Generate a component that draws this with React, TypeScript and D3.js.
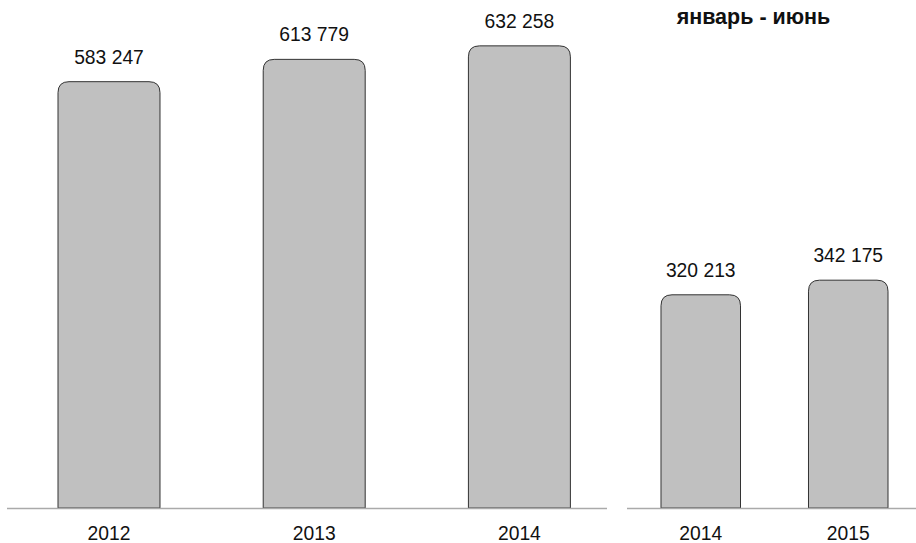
import React from "react";
import * as d3 from "d3";

const yearsMain = ["2012", "2013", "2014"];
const valuesMain = [583247, 613779, 632258];
const yearsHalf = ["2014", "2015"];
const valuesHalf = [320213, 342175];
const halfTitle = "январь - июнь";

const W = 916, H = 543;
const baseY = 508;

const fmt = (v: number) => d3.format(",")(v).replace(/,/g, " ");

function barPath(x: number, y: number, w: number, h: number, r: number) {
  const p = d3.path();
  p.moveTo(x, y + h);
  p.lineTo(x, y + r);
  p.quadraticCurveTo(x, y, x + r, y);
  p.lineTo(x + w - r, y);
  p.quadraticCurveTo(x + w, y, x + w, y + r);
  p.lineTo(x + w, y + h);
  p.closePath();
  return p.toString();
}

function Panel({ cats, vals, x0, x1, maxV, pad, axisX0, axisX1 }: any) {
  const x = d3.scaleBand().domain(cats).range([x0, x1]).paddingInner(pad).paddingOuter(pad / 2);
  const y = d3.scaleLinear().domain([0, maxV]).range([baseY, 0]);
  return (
    <g>
      {cats.map((c: string, i: number) => {
        const bx = x(c)!;
        const bw = x.bandwidth();
        const top = y(vals[i]);
        return (
          <g key={c}>
            <path d={barPath(bx, top, bw, baseY - top, 11)} fill="#c0c0c0" stroke="#333" strokeWidth={1} />
            <text x={bx + bw / 2} y={top - 18} textAnchor="middle" fontSize={19.3} fill="#111">{fmt(vals[i])}</text>
            <text x={bx + bw / 2} y={540} textAnchor="middle" fontSize={19.3} fill="#111">{c}</text>
          </g>
        );
      })}
      <line x1={axisX0} x2={axisX1} y1={baseY + 0.5} y2={baseY + 0.5} stroke="#aaa" strokeWidth={1.5} />
    </g>
  );
}

export default function App() {
  return (
    <svg width={W} height={H} style={{ position: "absolute", left: 0, top: 0 }} fontFamily="Arial, 'Liberation Sans', sans-serif">
      <Panel cats={yearsMain} vals={valuesMain} x0={6.4} x1={622} maxV={695000} pad={0.503} axisX0={7} axisX1={607} />
      <Panel cats={yearsHalf} vals={valuesHalf} x0={627} x1={922} maxV={763000} pad={0.461} axisX0={627} axisX1={916} />
      <text x={753.5} y={23.5} textAnchor="middle" fontSize={21.5} fontWeight="bold" fill="#111">{halfTitle}</text>
    </svg>
  );
}
